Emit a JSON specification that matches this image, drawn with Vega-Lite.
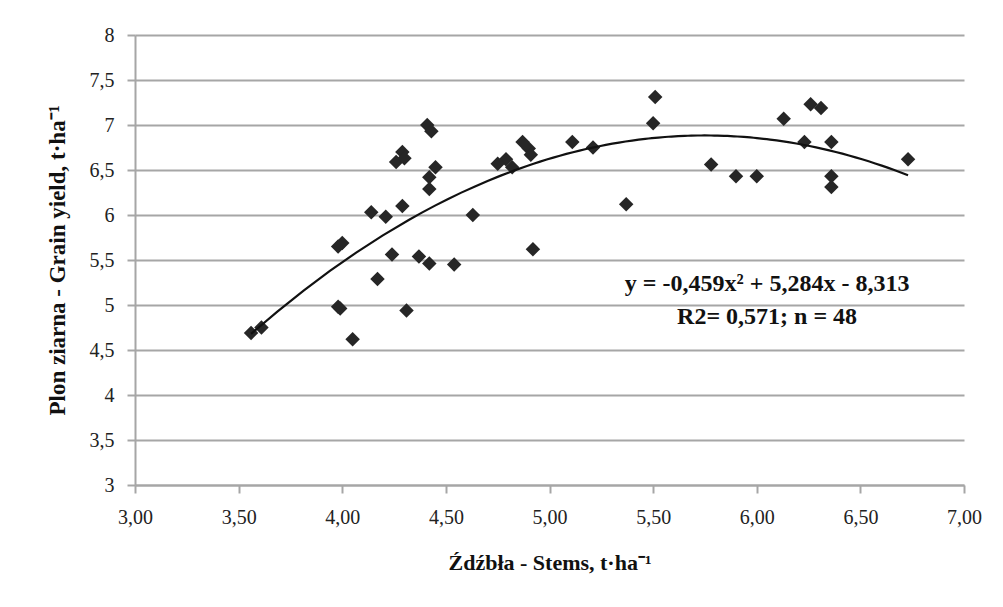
{
  "$schema": "https://vega.github.io/schema/vega-lite/v6.json",
  "autosize": {"type": "none"},
  "width": 829,
  "height": 450,
  "padding": {"left": 135, "top": 35, "right": 39, "bottom": 122},
  "background": "white",
  "datasets": {
    "pts": [
      {"stems": 3.56, "yield": 4.69}, {"stems": 3.61, "yield": 4.75},
      {"stems": 3.98, "yield": 5.65}, {"stems": 4.00, "yield": 5.69},
      {"stems": 3.98, "yield": 4.98}, {"stems": 3.99, "yield": 4.96},
      {"stems": 4.05, "yield": 4.62}, {"stems": 4.41, "yield": 7.00},
      {"stems": 4.43, "yield": 6.93}, {"stems": 4.29, "yield": 6.70},
      {"stems": 4.26, "yield": 6.59}, {"stems": 4.30, "yield": 6.63},
      {"stems": 4.45, "yield": 6.53}, {"stems": 4.42, "yield": 6.42},
      {"stems": 4.42, "yield": 6.29}, {"stems": 4.14, "yield": 6.03},
      {"stems": 4.21, "yield": 5.98}, {"stems": 4.29, "yield": 6.10},
      {"stems": 4.63, "yield": 6.00}, {"stems": 4.24, "yield": 5.56},
      {"stems": 4.37, "yield": 5.54}, {"stems": 4.42, "yield": 5.46},
      {"stems": 4.54, "yield": 5.45}, {"stems": 4.17, "yield": 5.29},
      {"stems": 4.31, "yield": 4.94}, {"stems": 4.92, "yield": 5.62},
      {"stems": 4.79, "yield": 6.62}, {"stems": 4.75, "yield": 6.57},
      {"stems": 4.82, "yield": 6.53}, {"stems": 4.87, "yield": 6.81},
      {"stems": 4.90, "yield": 6.74}, {"stems": 4.91, "yield": 6.67},
      {"stems": 5.11, "yield": 6.81}, {"stems": 5.21, "yield": 6.75},
      {"stems": 5.51, "yield": 7.31}, {"stems": 5.50, "yield": 7.02},
      {"stems": 5.78, "yield": 6.56}, {"stems": 5.90, "yield": 6.43},
      {"stems": 6.00, "yield": 6.43}, {"stems": 5.37, "yield": 6.12},
      {"stems": 6.13, "yield": 7.07}, {"stems": 6.26, "yield": 7.23},
      {"stems": 6.31, "yield": 7.19}, {"stems": 6.23, "yield": 6.81},
      {"stems": 6.36, "yield": 6.81}, {"stems": 6.36, "yield": 6.43},
      {"stems": 6.36, "yield": 6.31}, {"stems": 6.73, "yield": 6.62}
    ],
    "notes": [
      {"stems": 6.05, "yield": 5.23, "label": "y = -0,459x² + 5,284x - 8,313"},
      {"stems": 6.05, "yield": 4.87, "label": "R2= 0,571; n = 48"}
    ]
  },
  "config": {
    "view": {"stroke": null},
    "locale": {"number": {"decimal": ",", "thousands": " ", "grouping": [3], "currency": ["", " zł"]}},
    "style": {
      "guide-label": {"font": "Liberation Serif", "fontSize": 20, "fill": "#222222"}
    },
    "axis": {"labelFont": "Liberation Serif", "labelFontSize": 20, "labelColor": "#222222", "labelFlush": false}
  },
  "layer": [
    {
      "data": {"name": "pts"},
      "mark": {"type": "point", "shape": "diamond", "filled": true, "size": 210, "color": "#262626", "opacity": 1},
      "encoding": {
        "x": {
          "field": "stems", "type": "quantitative",
          "scale": {"domain": [3, 7], "nice": false, "zero": false},
          "axis": {
            "values": [3, 3.5, 4, 4.5, 5, 5.5, 6, 6.5, 7],
            "format": ".2f",
            "grid": false,
            "labelFlush": false,
            "labelFont": "Liberation Serif",
            "labelFontSize": 20,
            "labelColor": "#222222",
            "labelPadding": 14,
            "domainColor": "#a6a6a6",
            "domainWidth": 2,
            "tickColor": "#a6a6a6",
            "tickWidth": 2,
            "tickSize": 8,
            "title": "Źdźbła - Stems, t·ha⁻¹",
            "titleFont": "Liberation Serif",
            "titleFontSize": 22,
            "titleFontWeight": "bold",
            "titleColor": "#111111",
            "titlePadding": 25
          }
        },
        "y": {
          "field": "yield", "type": "quantitative",
          "scale": {"domain": [3, 8], "nice": false, "zero": false},
          "axis": {
            "values": [3, 3.5, 4, 4.5, 5, 5.5, 6, 6.5, 7, 7.5, 8],
            "format": "~g",
            "grid": true,
            "gridColor": "#a6a6a6",
            "gridWidth": 2,
            "gridOpacity": 1,
            "labelFlush": false,
            "labelFont": "Liberation Serif",
            "labelFontSize": 20,
            "labelColor": "#222222",
            "labelPadding": 13,
            "domainColor": "#a6a6a6",
            "domainWidth": 2,
            "tickColor": "#a6a6a6",
            "tickWidth": 2,
            "tickSize": 8,
            "title": "Plon ziarna - Grain yield, t·ha⁻¹",
            "titleFont": "Liberation Serif",
            "titleFontSize": 23,
            "titleFontWeight": "bold",
            "titleColor": "#111111",
            "titlePadding": 20
          }
        }
      }
    },
    {
      "data": {"name": "pts"},
      "transform": [
        {"regression": "yield", "on": "stems", "method": "poly", "order": 2, "extent": [3.56, 6.73]}
      ],
      "mark": {"type": "line", "color": "#111111", "strokeWidth": 2.2},
      "encoding": {
        "x": {"field": "stems", "type": "quantitative"},
        "y": {"field": "yield", "type": "quantitative"}
      }
    },
    {
      "data": {"name": "notes"},
      "mark": {"type": "text", "font": "Liberation Serif", "fontSize": 24, "fontWeight": "bold", "color": "#111111", "align": "center", "baseline": "middle"},
      "encoding": {
        "x": {"field": "stems", "type": "quantitative"},
        "y": {"field": "yield", "type": "quantitative"},
        "text": {"field": "label"}
      }
    }
  ]
}
